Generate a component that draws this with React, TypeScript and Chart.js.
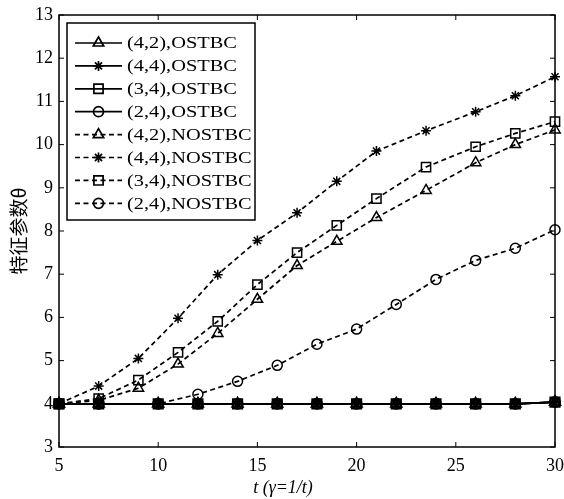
import React, { useEffect, useRef } from 'react';
import { Chart, registerables } from 'chart.js';

Chart.register(...registerables);

// ---- data ----
const xOSTBC = [5, 7, 10, 12, 14, 16, 18, 20, 22, 24, 26, 28, 30];
const yOSTBC42 = [4, 4, 4, 4, 4, 4, 4, 4, 4, 4, 4, 4, 4.04];
const yOSTBC44 = [4, 4, 4, 4, 4, 4, 4, 4, 4, 4, 4, 4, 4.04];
const yOSTBC34 = [4, 4, 4, 4, 4, 4, 4, 4, 4, 4, 4, 4, 4.04];
const yOSTBC24 = [4, 4, 4, 4, 4, 4, 4, 4, 4, 4, 4, 4, 4.04];

const xNOSTBC = [5, 7, 9, 11, 13, 15, 17, 19, 21, 23.5, 26, 28, 30];
const yNOSTBC42 = [4.0, 4.08, 4.36, 4.92, 5.63, 6.42, 7.2, 7.76, 8.31, 8.94, 9.58, 10.0, 10.34];
const yNOSTBC44 = [4.0, 4.41, 5.05, 5.98, 6.99, 7.78, 8.42, 9.15, 9.85, 10.32, 10.76, 11.13, 11.57];
const yNOSTBC34 = [4.0, 4.12, 4.55, 5.19, 5.91, 6.76, 7.5, 8.13, 8.75, 9.48, 9.95, 10.26, 10.53];
const xNOSTBC24 = [5, 7, 10, 12, 14, 16, 18, 20, 22, 24, 26, 28, 30];
const yNOSTBC24 = [4.0, 4.0, 4.0, 4.22, 4.52, 4.89, 5.38, 5.73, 6.3, 6.88, 7.32, 7.6, 8.03];

const seriesLabels = [
  '(4,2),OSTBC', '(4,4),OSTBC', '(3,4),OSTBC', '(2,4),OSTBC',
  '(4,2),NOSTBC', '(4,4),NOSTBC', '(3,4),NOSTBC', '(2,4),NOSTBC',
];
const xTicks = [5, 10, 15, 20, 25, 30];
const yTicks = [3, 4, 5, 6, 7, 8, 9, 10, 11, 12, 13];
const xTitle = 't (γ=1/t)';
const yTitle = '特征参数θ';

const FONT = '"Liberation Serif", "Times New Roman", serif';
const DASH = [5, 3.5];

const toPts = (xs: number[], ys: number[]) => xs.map((x, i) => ({ x, y: ys[i] }));

const markerDefs = [
  { style: 'triangle', r: 6 },
  { style: 'star', r: 5 },
  { style: 'rect', r: 6.5 },
  { style: 'circle', r: 5 },
];

function drawMarker(ctx: CanvasRenderingContext2D, style: string, x: number, y: number, r: number) {
  ctx.beginPath();
  if (style === 'triangle') {
    ctx.moveTo(x, y - r);
    ctx.lineTo(x + 0.866 * r, y + 0.5 * r);
    ctx.lineTo(x - 0.866 * r, y + 0.5 * r);
    ctx.closePath();
  } else if (style === 'star') {
    for (let k = 0; k < 4; k++) {
      const a = (k * Math.PI) / 4;
      ctx.moveTo(x - Math.cos(a) * r, y - Math.sin(a) * r);
      ctx.lineTo(x + Math.cos(a) * r, y + Math.sin(a) * r);
    }
  } else if (style === 'rect') {
    const s = Math.SQRT1_2 * r;
    ctx.rect(x - s, y - s, 2 * s, 2 * s);
  } else {
    ctx.arc(x, y, r, 0, Math.PI * 2);
  }
  ctx.stroke();
}

const decorPlugin = {
  id: 'decor',
  afterDraw(chart: any) {
    const ctx: CanvasRenderingContext2D = chart.ctx;
    const a = chart.chartArea;
    const xs = chart.scales.x;
    const ys = chart.scales.y;
    ctx.save();
    ctx.strokeStyle = '#000';
    ctx.fillStyle = '#000';
    ctx.setLineDash([]);
    // frame
    ctx.lineWidth = 1.5;
    ctx.strokeRect(a.left, a.top, a.right - a.left, a.bottom - a.top);
    // inward ticks
    ctx.lineWidth = 1;
    ctx.beginPath();
    yTicks.forEach((v) => {
      const py = ys.getPixelForValue(v);
      ctx.moveTo(a.left, py); ctx.lineTo(a.left + 5, py);
      ctx.moveTo(a.right, py); ctx.lineTo(a.right - 5, py);
    });
    xTicks.forEach((v) => {
      const px = xs.getPixelForValue(v);
      ctx.moveTo(px, a.bottom); ctx.lineTo(px, a.bottom - 5);
      ctx.moveTo(px, a.top); ctx.lineTo(px, a.top + 5);
    });
    ctx.stroke();

    // legend
    const bx = a.left + 8, by = a.top + 8, bw = 188, bh = 197;
    ctx.fillStyle = '#fff';
    ctx.fillRect(bx, by, bw, bh);
    ctx.lineWidth = 1.5;
    ctx.strokeStyle = '#000';
    ctx.strokeRect(bx, by, bw, bh);
    chart.data.datasets.forEach((ds: any, i: number) => {
      const ry = by + 20 + i * 22.9;
      const m = markerDefs[i % 4];
      ctx.lineWidth = 1.7;
      ctx.setLineDash(i >= 4 ? DASH : []);
      ctx.beginPath();
      ctx.moveTo(bx + 8, ry);
      ctx.lineTo(bx + 55, ry);
      ctx.stroke();
      ctx.setLineDash([]);
      ctx.fillStyle = '#fff';
      drawMarker(ctx, m.style, bx + 31.5, ry, m.r);
      ctx.fillStyle = '#000';
      ctx.save();
      ctx.translate(bx + 60, ry);
      ctx.scale(1.2, 1);
      ctx.font = `17px ${FONT}`;
      ctx.textAlign = 'left';
      ctx.textBaseline = 'middle';
      ctx.fillText(ds.label, 0, 1);
      ctx.restore();
    });

    // axis titles
    ctx.fillStyle = '#000';
    ctx.font = `italic 18px ${FONT}`;
    ctx.textAlign = 'center';
    ctx.textBaseline = 'middle';
    ctx.fillText(xTitle, 283, 488);
    ctx.save();
    ctx.translate(19, (a.top + a.bottom) / 2);
    ctx.rotate(-Math.PI / 2);
    ctx.font = `19px "Noto Sans CJK SC", sans-serif`;
    ctx.fillText(yTitle, 0, 0);
    ctx.restore();
    ctx.restore();
  },
};

export default function App() {
  const ref = useRef<HTMLCanvasElement | null>(null);
  useEffect(() => {
    if (!ref.current) return;
    const mk = (i: number, xs: number[], ys: number[]) => {
      const m = markerDefs[i % 4];
      return {
        label: seriesLabels[i],
        data: toPts(xs, ys),
        borderColor: '#000',
        backgroundColor: 'rgba(255,255,255,0)',
        borderWidth: 1.7,
        borderDash: i >= 4 ? DASH : [],
        pointStyle: m.style,
        pointRadius: m.r,
        pointBorderWidth: i < 4 ? 2 : 1.5,
        pointBorderColor: '#000',
        pointBackgroundColor: 'rgba(255,255,255,0)',
        tension: 0,
        clip: false,
      };
    };
    const chart = new Chart(ref.current, {
      type: 'line',
      data: {
        datasets: [
          mk(0, xOSTBC, yOSTBC42),
          mk(1, xOSTBC, yOSTBC44),
          mk(2, xOSTBC, yOSTBC34),
          mk(3, xOSTBC, yOSTBC24),
          mk(4, xNOSTBC, yNOSTBC42),
          mk(5, xNOSTBC, yNOSTBC44),
          mk(6, xNOSTBC, yNOSTBC34),
          mk(7, xNOSTBC24, yNOSTBC24),
        ],
      },
      options: {
        responsive: false,
        animation: false,
        layout: { padding: { top: 15, right: 9, left: 0, bottom: 0 } },
        plugins: { legend: { display: false }, tooltip: { enabled: false } },
        scales: {
          x: {
            type: 'linear',
            min: 5,
            max: 30,
            afterFit: (s: any) => { s.height = 52; s.paddingRight = 0; s.paddingLeft = 0; },
            afterBuildTicks: (s: any) => { s.ticks = xTicks.map((v) => ({ value: v })); },
            ticks: { color: '#000', font: { family: FONT, size: 18 }, padding: 8 },
            grid: { display: false, drawTicks: false },
            border: { display: false },
          },
          y: {
            type: 'linear',
            min: 3,
            max: 13,
            afterFit: (s: any) => { s.width = 59; s.paddingTop = 0; s.paddingBottom = 0; },
            afterBuildTicks: (s: any) => { s.ticks = yTicks.map((v) => ({ value: v })); },
            ticks: { color: '#000', font: { family: FONT, size: 18 }, padding: 6 },
            grid: { display: false, drawTicks: false },
            border: { display: false },
          },
        },
      },
      plugins: [decorPlugin],
    } as any);
    return () => chart.destroy();
  }, []);
  return (
    <div style={{ position: 'absolute', left: 0, top: 0, width: 564, height: 499, background: '#fff' }}>
      <canvas ref={ref} width={564} height={499} style={{ display: 'block' }} />
    </div>
  );
}
